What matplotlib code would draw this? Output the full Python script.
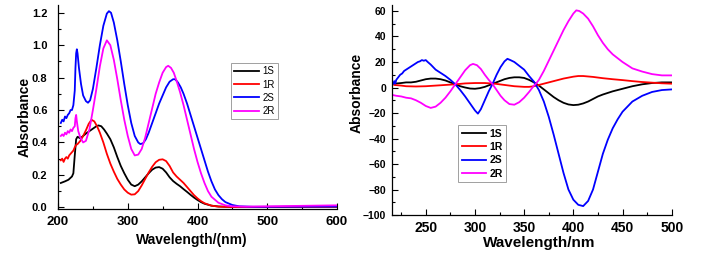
import matplotlib
matplotlib.use("Agg")
import matplotlib.pyplot as plt
from matplotlib.ticker import MultipleLocator

plt.rcParams["font.family"] = ["Liberation Sans", "DejaVu Sans"]
plt.rcParams["font.weight"] = "bold"

# --- UV-Vis (left) ---
uv_1s_x = [204, 210, 215, 220, 222, 224, 226, 228, 232, 236, 240, 245, 250, 255, 258, 262, 266, 270, 275, 280,
           285, 290, 295, 300, 305, 310, 315, 320, 325, 330, 335, 340, 345, 350, 355, 360, 365, 370, 375, 380,
           385, 390, 395, 400, 405, 410, 420, 430, 440, 450, 500, 550, 600]
uv_1s_y = [0.15, 0.16, 0.17, 0.19, 0.21, 0.32, 0.42, 0.435, 0.425, 0.44, 0.455, 0.47, 0.485, 0.5, 0.505, 0.5,
           0.48, 0.455, 0.42, 0.37, 0.31, 0.255, 0.21, 0.17, 0.14, 0.13, 0.14, 0.16, 0.185, 0.21, 0.232, 0.245,
           0.248, 0.238, 0.215, 0.185, 0.162, 0.145, 0.13, 0.112, 0.095, 0.077, 0.06, 0.045, 0.032, 0.022, 0.01,
           0.005, 0.003, 0.002, 0.002, 0.003, 0.003]

uv_1r_x = [204, 206, 208, 210, 212, 214, 216, 218, 220, 222, 224, 226, 228, 232, 236, 240, 244, 248, 252, 256,
           260, 265, 270, 275, 280, 285, 290, 295, 300, 305, 310, 315, 320, 325, 330, 335, 340, 345, 350, 355,
           360, 365, 370, 375, 380, 385, 390, 395, 400, 405, 410, 420, 430, 450, 500, 550, 600]
uv_1r_y = [0.29, 0.30, 0.28, 0.30, 0.31, 0.30, 0.32, 0.33, 0.34, 0.35, 0.37, 0.385, 0.39, 0.41, 0.44, 0.475,
           0.515, 0.54, 0.53, 0.5, 0.46, 0.4, 0.33, 0.27, 0.22, 0.175, 0.14, 0.11, 0.09, 0.078, 0.08, 0.1, 0.135,
           0.175, 0.215, 0.25, 0.278, 0.293, 0.296, 0.285, 0.255, 0.215, 0.19, 0.17, 0.15, 0.125, 0.1, 0.075,
           0.055, 0.038, 0.025, 0.01, 0.004, 0.002, 0.002, 0.003, 0.004]

uv_2s_x = [204, 206, 208, 210, 212, 214, 216, 218, 220, 222, 224, 225, 226, 227, 228, 230, 233, 236, 240, 243,
           246, 250, 255, 260, 265, 270, 273, 276, 280, 285, 290, 295, 300, 305, 310, 315, 318, 322, 326, 330,
           335, 340, 345, 350, 355, 360, 365, 368, 372, 376, 380, 385, 390, 395, 400, 405, 410, 415, 420, 425,
           430, 435, 440, 450, 460, 480, 500, 550, 600]
uv_2s_y = [0.52, 0.54, 0.53, 0.56, 0.55, 0.57, 0.58, 0.6, 0.6, 0.63, 0.72, 0.86, 0.95, 0.975, 0.95, 0.86, 0.76,
           0.69, 0.655, 0.645, 0.66, 0.73, 0.86, 1.0, 1.12, 1.195, 1.21, 1.2, 1.14, 1.03, 0.9, 0.76, 0.63, 0.52,
           0.44, 0.4, 0.39, 0.395, 0.42, 0.46, 0.52, 0.58, 0.64, 0.69, 0.74, 0.775, 0.79, 0.79, 0.77, 0.74, 0.7,
           0.64, 0.57, 0.5, 0.43, 0.36, 0.29, 0.22, 0.16, 0.11, 0.075, 0.05, 0.032, 0.014, 0.006, 0.003, 0.003,
           0.004, 0.005]

uv_2r_x = [204, 206, 208, 210, 212, 214, 216, 218, 220, 222, 224, 225, 226, 227, 229, 232, 236, 240, 245, 250,
           255, 260, 265, 270, 275, 280, 285, 290, 295, 300, 305, 310, 315, 320, 325, 330, 335, 340, 345, 350,
           355, 358, 362, 366, 370, 375, 380, 385, 390, 395, 400, 405, 410, 415, 420, 430, 440, 450, 470, 500,
           550, 600]
uv_2r_y = [0.44, 0.45, 0.44, 0.46, 0.45, 0.47, 0.46, 0.48, 0.47, 0.49, 0.5, 0.55, 0.57, 0.53, 0.47, 0.43, 0.40,
           0.41, 0.48, 0.6, 0.73, 0.87, 0.98, 1.03, 1.0, 0.91, 0.79, 0.66, 0.54, 0.44, 0.36, 0.32, 0.325, 0.36,
           0.43, 0.52, 0.61, 0.7, 0.77, 0.83, 0.865, 0.873, 0.86, 0.83, 0.78, 0.71, 0.63, 0.54, 0.45, 0.36, 0.28,
           0.21, 0.15, 0.1, 0.065, 0.028, 0.012, 0.006, 0.004, 0.006, 0.009, 0.012]

# --- CD (right) ---
cd_1s_x = [218, 225, 230, 235, 240, 245, 250, 255, 260, 265, 270, 275, 280, 285, 290, 295, 300, 305, 310, 315,
           320, 325, 330, 335, 340, 345, 350, 355, 360, 365, 370, 375, 380, 385, 390, 395, 400, 405, 410, 415,
           420, 425, 430, 440, 450, 460, 470, 480, 490, 500]
cd_1s_y = [3, 3.5, 4, 4, 4.5, 5.5, 6.5, 7, 7, 6.5, 5.5, 4, 2.5, 1, 0, -0.8, -1, -0.5, 0.5, 2, 3.5, 5, 6.5, 7.5,
           8, 8, 7.5, 6, 4, 1.5, -1.5, -4.5, -7.5, -10, -12, -13.3, -13.8, -13.5, -12.5, -11, -9, -7, -5.5, -3,
           -1, 1, 2.5, 3.5, 4, 4]

cd_1r_x = [218, 225, 230, 240, 250, 260, 270, 280, 290, 300, 310, 320, 330, 340, 350, 355, 360, 365, 370, 380,
           390, 400, 405, 410, 420, 430, 440, 450, 460, 470, 480, 490, 500]
cd_1r_y = [2, 1.5, 1, 0.8, 1, 1.5, 2, 2.5, 3.2, 3.5, 3.5, 3, 2, 1, 0.5, 0.5, 1, 2, 3, 5, 7, 8.5, 9, 9, 8.3, 7.3,
           6.5, 5.8, 5, 4.3, 3.8, 3.3, 3]

cd_2s_x = [217, 218, 219, 220, 222, 224, 226, 228, 230, 232, 234, 236, 238, 240, 242, 244, 246, 248, 250, 252,
           255, 260, 265, 270, 275, 280, 285, 290, 295, 300, 303, 306, 310, 314, 318, 322, 326, 330, 333, 336,
           340, 345, 350, 355, 360, 365, 370, 375, 380, 385, 390, 395, 400, 405, 410, 415, 420, 425, 430, 435,
           440, 445, 450, 460, 470, 480, 490, 500]
cd_2s_y = [3, 5, 3, 6, 8, 10, 11, 13, 14, 15, 16, 17, 18, 19, 20, 20.5, 21.5, 21, 21.5, 20, 18, 14, 11.5, 9, 6,
           2.5, -2, -7, -12.5, -18, -20.5, -17, -10, -3, 3, 10, 16, 20.5, 22.5, 21.5, 20, 17, 14, 9, 4.5, -2,
           -11, -23, -37, -52, -67, -80, -88, -92, -93, -89, -80, -66, -52, -41, -32, -25, -19, -11, -6.5, -3.5,
           -2, -1.5]

cd_2r_x = [217, 220, 225, 230, 235, 240, 245, 250, 255, 260, 265, 270, 275, 280, 285, 290, 295, 298, 302, 306,
           310, 314, 318, 322, 326, 330, 335, 340, 345, 350, 355, 360, 362, 365, 370, 375, 380, 385, 390, 395,
           400, 403, 406, 410, 415, 420, 425, 430, 435, 440, 445, 450, 460, 470, 480, 490, 500]
cd_2r_y = [-6, -6.5, -7, -8, -8.5, -10, -12, -14.5, -16, -15, -12, -8, -3, 2.5, 8, 13.5, 17.5, 18.5, 17.5, 14.5,
           10, 6, 2.5, -2, -6.5, -10, -13, -13.5, -11.5, -8, -3.5, 1.5, 3, 6, 13, 21, 29, 37, 45, 52, 58, 60.5,
           60, 58, 54, 48, 41, 35, 30, 26, 23, 20, 15, 12.5, 10.5, 9.5, 9.5]

labels = ["1S", "1R", "2S", "2R"]
colors = ["black", "red", "blue", "magenta"]

fig = plt.figure(figsize=(7.05, 2.54), dpi=100)
ax1 = fig.add_axes([0.0823, 0.176, 0.3957, 0.8043])
ax2 = fig.add_axes([0.5565, 0.1535, 0.3963, 0.8268])

uv = [(uv_1s_x, uv_1s_y), (uv_1r_x, uv_1r_y), (uv_2s_x, uv_2s_y), (uv_2r_x, uv_2r_y)]
cd = [(cd_1s_x, cd_1s_y), (cd_1r_x, cd_1r_y), (cd_2s_x, cd_2s_y), (cd_2r_x, cd_2r_y)]
for (x, y), lab, c in zip(uv, labels, colors):
    ax1.plot(x, y, color=c, lw=1.3, label=lab)
for (x, y), lab, c in zip(cd, labels, colors):
    ax2.plot(x, y, color=c, lw=1.3, label=lab)

ax1.set_xlim(200, 600)
ax1.set_ylim(-0.0124, 1.248)
ax1.xaxis.set_major_locator(MultipleLocator(100))
ax1.xaxis.set_minor_locator(MultipleLocator(50))
ax1.yaxis.set_major_locator(MultipleLocator(0.2))
ax1.yaxis.set_minor_locator(MultipleLocator(0.1))
ax1.yaxis.set_major_formatter(plt.FuncFormatter(lambda v, p: f"{v:.1f}"))

ax2.set_xlim(216, 500)
ax2.set_ylim(-100, 64.7)
ax2.xaxis.set_major_locator(MultipleLocator(50))
ax2.xaxis.set_minor_locator(MultipleLocator(25))
ax2.yaxis.set_major_locator(MultipleLocator(20))
ax2.yaxis.set_minor_locator(MultipleLocator(10))

for ax in (ax1, ax2):
    ax.spines["top"].set_visible(False)
    ax.spines["right"].set_visible(False)
    for s in ("left", "bottom"):
        ax.spines[s].set_linewidth(0.9)
    ax.tick_params(which="both", direction="in", width=0.8)
    ax.tick_params(which="major", length=4)
    ax.tick_params(which="minor", length=2)

ax1.tick_params(axis="x", labelsize=9.5, pad=5)
ax1.tick_params(axis="y", labelsize=8, pad=7.5)
ax2.tick_params(axis="x", labelsize=10, pad=4.5)
ax2.tick_params(axis="y", labelsize=7.5, pad=4.5)

ax1.set_xlabel("Wavelength/(nm)", fontsize=10, fontweight="bold")
ax1.set_ylabel("Absorbance", fontsize=10, fontweight="bold")
ax1.xaxis.set_label_coords(0.481, -0.116)
ax1.yaxis.set_label_coords(-0.095, 0.452)
ax2.set_xlabel("Wavelength/nm", fontsize=11, fontweight="bold")
ax2.set_ylabel("Absorbance", fontsize=10, fontweight="bold")
ax2.xaxis.set_label_coords(0.525, -0.098)
ax2.yaxis.set_label_coords(-0.101, 0.581)

leg1 = ax1.legend(loc="upper left", bbox_to_anchor=(0.3277, 0.752), bbox_transform=fig.transFigure,
                  prop={"size": 7, "weight": "normal"}, fancybox=False, edgecolor="#888888",
                  handlelength=2.5, handletextpad=0.4, labelspacing=0.33, borderpad=0.35, borderaxespad=0)
leg1.get_frame().set_linewidth(0.7)
leg2 = ax2.legend(loc="upper left", bbox_to_anchor=(0.6496, 0.508), bbox_transform=fig.transFigure,
                  prop={"size": 7.5, "weight": "bold"}, fancybox=False, edgecolor="#888888",
                  handlelength=2.3, handletextpad=0.35, labelspacing=0.32, borderpad=0.35, borderaxespad=0)
leg2.get_frame().set_linewidth(0.7)

plt.savefig("out.png", dpi=100)
